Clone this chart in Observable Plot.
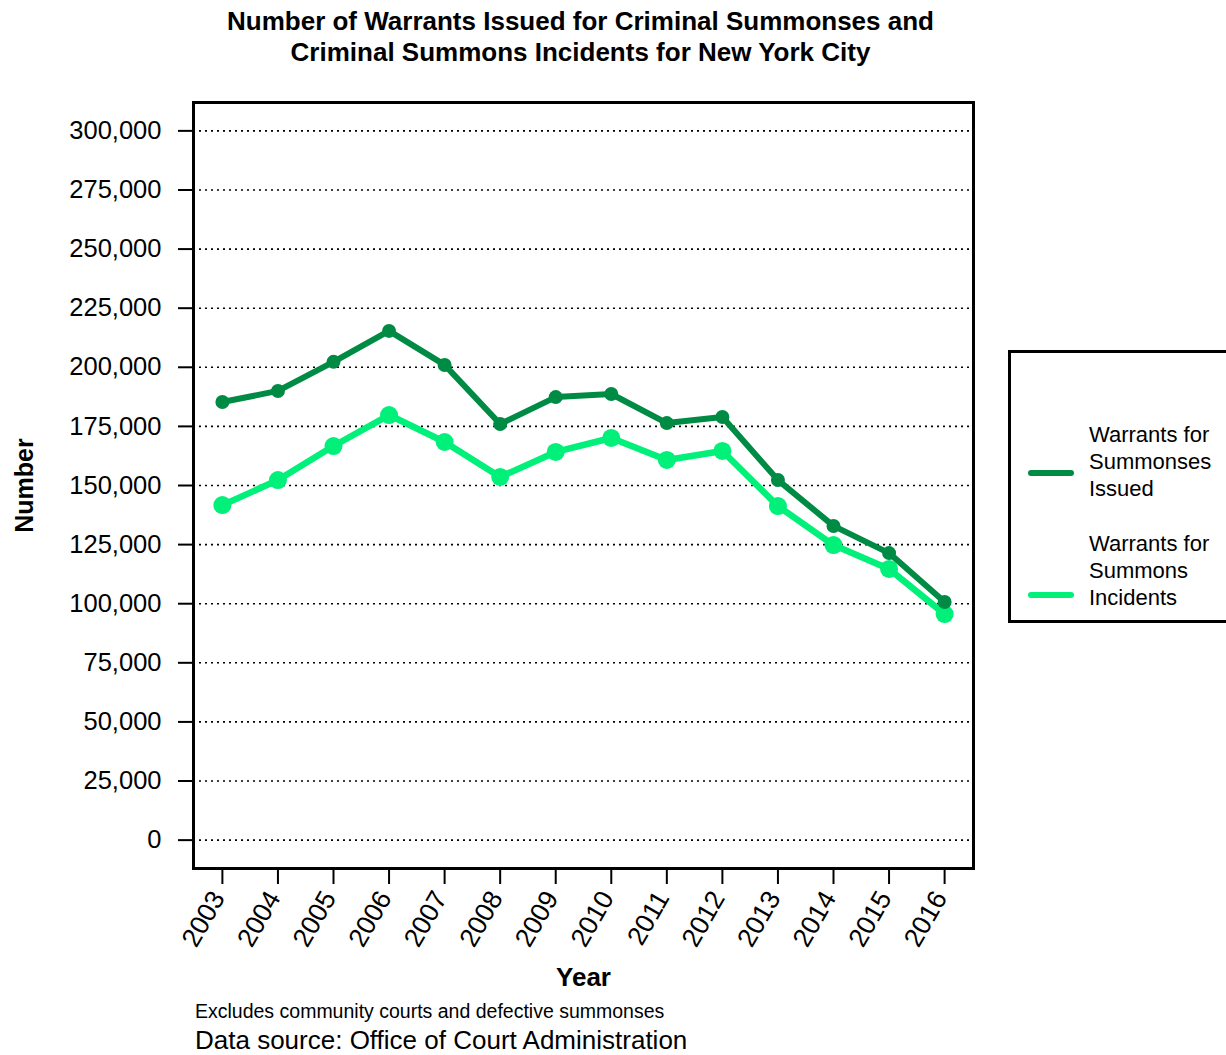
<!DOCTYPE html>
<html>
<head>
<meta charset="utf-8">
<script src="https://cdn.jsdelivr.net/npm/d3@7"></script>
<script src="https://cdn.jsdelivr.net/npm/@observablehq/plot@0.6"></script>
<style>
  html, body { margin: 0; padding: 0; background: #fff; }
  body { font-family: "Liberation Sans", Arial, sans-serif; color: #000; }
  #wrap { position: relative; width: 1226px; height: 1055px; overflow: hidden; }
  #chart { position: absolute; left: 0; top: 0; }
  .title { position: absolute; left: 0; width: 1161px; text-align: center; font-weight: bold; font-size: 26px; line-height: 31px; top: 6px; }
  .legend { position: absolute; left: 1008px; top: 350px; width: 240px; height: 273px; border: 3px solid #000; box-sizing: border-box; }
  .legend .item { position: absolute; left: 78px; font-size: 22px; line-height: 27px; }
  .legend .sw { position: absolute; left: 17px; width: 46px; height: 6px; border-radius: 3px; }
  .cap1 { position: absolute; left: 195px; top: 1000px; font-size: 19.5px; }
  .cap2 { position: absolute; left: 195px; top: 1025px; font-size: 26px; }
</style>
</head>
<body>
<div id="wrap">
  <div id="chart"></div>
  <div class="title">Number of Warrants Issued for Criminal Summonses and<br>Criminal Summons Incidents for New York City</div>
  <div class="legend">
    <div class="item" style="top:68px">Warrants for<br>Summonses<br>Issued</div>
    <div class="sw" style="top:117px;background:#008B45"></div>
    <div class="item" style="top:177px">Warrants for<br>Summons<br>Incidents</div>
    <div class="sw" style="top:239px;background:#00F07A"></div>
  </div>
  <div class="cap1">Excludes community courts and defective summonses</div>
  <div class="cap2">Data source: Office of Court Administration</div>
</div>
<script>
const years = [2003, 2004, 2005, 2006, 2007, 2008, 2009, 2010, 2011, 2012, 2013, 2014, 2015, 2016];
const summonsesIssued = [185300, 190000, 202300, 215400, 201000, 176000, 187400, 188700, 176400, 179000, 152300, 132900, 121400, 100700];
const summonsIncidents = [141700, 152300, 166700, 179800, 168400, 153600, 164200, 170100, 160800, 164600, 141300, 124800, 114700, 95600];
const seriesNames = ["Warrants for Summonses Issued", "Warrants for Summons Incidents"];
const seriesColors = ["#008B45", "#00F07A"];
const yTicks = [0, 25000, 50000, 75000, 100000, 125000, 150000, 175000, 200000, 225000, 250000, 275000, 300000];

const issued = years.map((year, i) => ({year, value: summonsesIssued[i]}));
const incidents = years.map((year, i) => ({year, value: summonsIncidents[i]}));

const chart = Plot.plot({
  width: 1226,
  height: 1055,
  marginLeft: 193,
  marginRight: 253,
  marginTop: 102,
  marginBottom: 187,
  style: {fontFamily: "Liberation Sans, Arial, sans-serif", fontSize: "25px", color: "#000", background: "#fff"},
  x: {domain: [2002.48, 2016.52]},
  y: {domain: [-12000, 312000]},
  marks: [
    Plot.ruleY(yTicks, {stroke: "#000", strokeWidth: 1.6, strokeDasharray: "2,4"}),
    Plot.line(incidents, {x: "year", y: "value", stroke: seriesColors[1], strokeWidth: 6.5}),
    Plot.dot(incidents, {x: "year", y: "value", fill: seriesColors[1], r: 9}),
    Plot.line(issued, {x: "year", y: "value", stroke: seriesColors[0], strokeWidth: 6}),
    Plot.dot(issued, {x: "year", y: "value", fill: seriesColors[0], r: 7}),
    Plot.frame({stroke: "#000", strokeWidth: 3}),
    Plot.axisY({ticks: yTicks, tickFormat: d3.format(","), tickSize: 15, tickPadding: 17, strokeWidth: 2, label: null, fontSize: 25.5}),
    Plot.axisX({ticks: years, tickFormat: () => "", tickSize: 16, strokeWidth: 2, label: null}),
    Plot.axisX({ticks: years, tickFormat: d => String(d), tickSize: 0, tickPadding: 23, tickRotate: -60, label: null, fontSize: 26.5, dx: -4, dy: 2}),
    Plot.text(["Year"], {frameAnchor: "bottom", dy: 117, fontWeight: "bold", fontSize: 26}),
    Plot.text(["Number"], {frameAnchor: "left", dx: -169, rotate: -90, textAnchor: "middle", fontWeight: "bold", fontSize: 25})
  ]
});
document.getElementById("chart").appendChild(chart);
</script>
</body>
</html>
